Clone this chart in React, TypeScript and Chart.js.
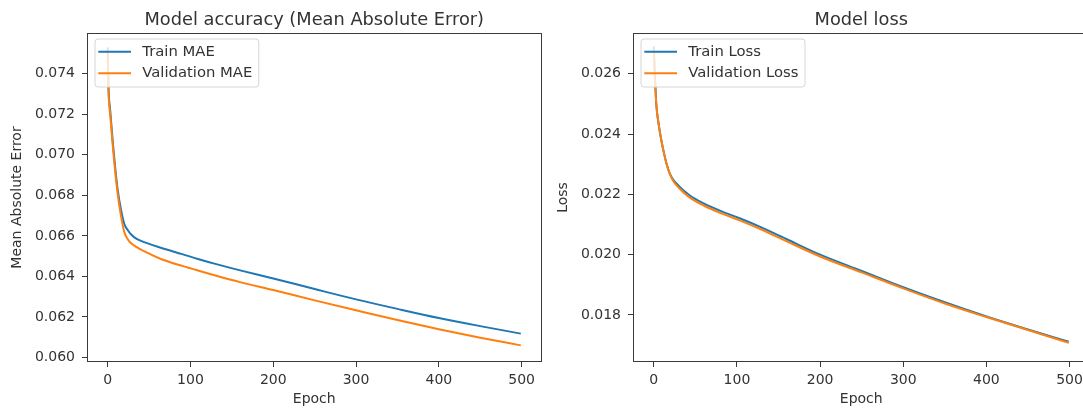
import React, { useEffect, useRef } from "react";
import { Chart, registerables } from "chart.js";

Chart.register(...registerables);

const FONT = "'DejaVu Sans', sans-serif";
const TEXT = "#333333";
const AXIS = "#3a3a3a";
const BLUE = "#1f77b4";
const ORANGE = "#ff7f0e";

// ---- tick labels ----
const EPOCH_TICKS = [0, 100, 200, 300, 400, 500];
const MAE_TICKS = [0.06, 0.062, 0.064, 0.066, 0.068, 0.07, 0.072, 0.074];
const LOSS_TICKS = [0.018, 0.02, 0.022, 0.024, 0.026];

// ---- left panel: Mean Absolute Error ----
const MAE_EPOCHS = [0, 1, 3, 6, 9, 12, 16, 20, 24, 28, 35, 45, 65, 90, 110, 130, 160, 200, 250, 300, 350, 400, 450, 499];
const TRAIN_MAE = [
  0.0753, 0.0733, 0.0722, 0.0707, 0.0694, 0.0683, 0.0673, 0.0666, 0.0663, 0.06608, 0.06585, 0.06568,
  0.0654, 0.0651, 0.06485, 0.06462, 0.0643, 0.0639, 0.06338, 0.06287, 0.0624, 0.06195, 0.06155, 0.06118,
];
const VAL_MAE = [
  0.075, 0.0731, 0.072, 0.0705, 0.0692, 0.0681, 0.067, 0.0662, 0.06585, 0.06565, 0.06545, 0.06522,
  0.06485, 0.06452, 0.06428, 0.06405, 0.06372, 0.06333, 0.06282, 0.06233, 0.06185, 0.0614, 0.06098, 0.0606,
];

// ---- right panel: Loss ----
const LOSS_EPOCHS = [0, 1, 3, 6, 9, 12, 15, 19, 23, 30, 43, 60, 83, 104, 128, 160, 200, 250, 300, 350, 400, 450, 499];
const TRAIN_LOSS = [
  0.0269, 0.0262, 0.025, 0.0243, 0.0238, 0.0234, 0.02305, 0.0227, 0.0225, 0.02228, 0.02197, 0.0217,
  0.02142, 0.0212, 0.02092, 0.02051, 0.02, 0.01946, 0.01892, 0.01842, 0.01795, 0.01752, 0.01711,
];
const VAL_LOSS = [
  0.0268, 0.0261, 0.025, 0.0243, 0.0238, 0.0234, 0.02305, 0.0227, 0.02246, 0.02222, 0.0219, 0.02163,
  0.02135, 0.02113, 0.02085, 0.02044, 0.01994, 0.01941, 0.01888, 0.01838, 0.01793, 0.0175, 0.01708,
];

const frameAndLegend = {
  id: "frameAndLegend",
  afterDraw(chart: any, _args: any, opts: any) {
    const { ctx, chartArea } = chart;
    const { left, top, right, bottom } = chartArea;
    ctx.save();
    // axes frame (all four spines)
    ctx.strokeStyle = AXIS;
    ctx.lineWidth = 1;
    ctx.strokeRect(Math.round(left) + 0.5, Math.round(top) + 0.5, Math.round(right - left) - 1, Math.round(bottom - top) - 1);

    // legend in the upper left
    const items = opts.items || [];
    ctx.font = `14.8px ${FONT}`;
    const textW = Math.max(...items.map((it: any) => ctx.measureText(it.label).width));
    const bx = left + 8;
    const by = top + 6;
    const bw = 47.3 + textW + 6.5;
    const bh = 48;
    const r = 3;
    ctx.beginPath();
    ctx.moveTo(bx + r, by);
    ctx.lineTo(bx + bw - r, by);
    ctx.quadraticCurveTo(bx + bw, by, bx + bw, by + r);
    ctx.lineTo(bx + bw, by + bh - r);
    ctx.quadraticCurveTo(bx + bw, by + bh, bx + bw - r, by + bh);
    ctx.lineTo(bx + r, by + bh);
    ctx.quadraticCurveTo(bx, by + bh, bx, by + bh - r);
    ctx.lineTo(bx, by + r);
    ctx.quadraticCurveTo(bx, by, bx + r, by);
    ctx.closePath();
    ctx.fillStyle = "rgba(255,255,255,0.8)";
    ctx.fill();
    ctx.strokeStyle = "#d6d6d6";
    ctx.stroke();
    items.forEach((it: any, i: number) => {
      const y = by + 12.7 + i * 21.6;
      ctx.strokeStyle = it.color;
      ctx.lineWidth = 2;
      ctx.beginPath();
      ctx.moveTo(bx + 3.3, y);
      ctx.lineTo(bx + 36, y);
      ctx.stroke();
      ctx.fillStyle = TEXT;
      ctx.textAlign = "left";
      ctx.textBaseline = "middle";
      ctx.fillText(it.label, bx + 47.3, y);
    });
    ctx.restore();
  },
};

type Props = {
  title: string;
  yLabel: string;
  epochs: number[];
  train: number[];
  val: number[];
  trainLabel: string;
  valLabel: string;
  yMin: number;
  yMax: number;
  yTicks: number[];
  width: number;
};

function LossChart(p: Props) {
  const ref = useRef<HTMLCanvasElement | null>(null);
  useEffect(() => {
    if (!ref.current) return;
    const tickFont = { family: FONT, size: 14 };
    const chart = new Chart(ref.current, {
      type: "line",
      data: {
        datasets: [
          {
            label: p.trainLabel,
            data: p.epochs.map((e, i) => ({ x: e, y: p.train[i] })),
            borderColor: BLUE,
            borderWidth: 2,
            pointRadius: 0,
            cubicInterpolationMode: "monotone",
            fill: false,
            order: 1,
          },
          {
            label: p.valLabel,
            data: p.epochs.map((e, i) => ({ x: e, y: p.val[i] })),
            borderColor: ORANGE,
            borderWidth: 2,
            pointRadius: 0,
            cubicInterpolationMode: "monotone",
            fill: false,
            order: 0,
          },
        ],
      },
      options: {
        responsive: false,
        animation: false,
        devicePixelRatio: 1,
        layout: { padding: { left: 0, right: 3.5, top: 0, bottom: 0 } },
        plugins: {
          legend: { display: false },
          tooltip: { enabled: false },
          title: {
            display: true,
            fullSize: false,
            text: p.title,
            color: TEXT,
            font: { family: FONT, size: 17.8, weight: "normal", lineHeight: 1.2 },
            padding: { top: 9.5, bottom: 2.14 },
          },
          frameAndLegend: {
            items: [
              { label: p.trainLabel, color: BLUE },
              { label: p.valLabel, color: ORANGE },
            ],
          },
        } as any,
        scales: {
          x: {
            type: "linear",
            min: -25,
            max: 524,
            afterBuildTicks: (s: any) => {
              s.ticks = EPOCH_TICKS.map((v) => ({ value: v }));
            },
            afterFit: (s: any) => {
              s.height = 46;
              s.paddingLeft = 0;
              s.paddingRight = 0;
            },
            grid: { display: true, drawOnChartArea: false, drawTicks: true, tickLength: 5, color: AXIS, lineWidth: 1 },
            border: { display: false },
            ticks: {
              color: TEXT,
              font: tickFont,
              padding: 5,
              maxRotation: 0,
              autoSkip: false,
              callback: (v: any) => String(v),
            },
            title: {
              display: true,
              text: "Epoch",
              color: TEXT,
              font: { family: FONT, size: 14, lineHeight: 1.2 },
              padding: { top: 0, bottom: 0 },
            },
          },
          y: {
            type: "linear",
            min: p.yMin,
            max: p.yMax,
            afterBuildTicks: (s: any) => {
              s.ticks = p.yTicks.map((v) => ({ value: v }));
            },
            afterFit: (s: any) => {
              s.width = 87;
              s.paddingTop = 0;
              s.paddingBottom = 0;
            },
            grid: { display: true, drawOnChartArea: false, drawTicks: true, tickLength: 5, color: AXIS, lineWidth: 1 },
            border: { display: false },
            ticks: {
              color: TEXT,
              font: tickFont,
              padding: 7,
              autoSkip: false,
              callback: (v: any) => Number(v).toFixed(3),
            },
            title: {
              display: true,
              text: p.yLabel,
              color: TEXT,
              font: { family: FONT, size: 14, lineHeight: 1.2 },
              padding: { top: 9, bottom: 0 },
            },
          },
        },
      },
      plugins: [frameAndLegend as any],
    } as any);
    return () => chart.destroy();
  }, []);
  return <canvas ref={ref} width={p.width} height={408} style={{ display: "block", width: p.width, height: 408 }} />;
}

export default function App() {
  return (
    <div
      style={{
        position: "fixed",
        left: 0,
        top: 0,
        width: 1083,
        height: 408,
        overflow: "hidden",
        background: "#ffffff",
      }}
    >
      <div style={{ position: "absolute", left: 0, top: 0 }}>
        <LossChart
          title="Model accuracy (Mean Absolute Error)"
          yLabel="Mean Absolute Error"
          epochs={MAE_EPOCHS}
          train={TRAIN_MAE}
          val={VAL_MAE}
          trainLabel="Train MAE"
          valLabel="Validation MAE"
          yMin={0.05978}
          yMax={0.07601}
          yTicks={MAE_TICKS}
          width={545}
        />
      </div>
      <div style={{ position: "absolute", left: 546, top: 0 }}>
        <LossChart
          title="Model loss"
          yLabel="Loss"
          epochs={LOSS_EPOCHS}
          train={TRAIN_LOSS}
          val={VAL_LOSS}
          trainLabel="Train Loss"
          valLabel="Validation Loss"
          yMin={0.01644}
          yMax={0.02735}
          yTicks={LOSS_TICKS}
          width={547}
        />
      </div>
    </div>
  );
}
